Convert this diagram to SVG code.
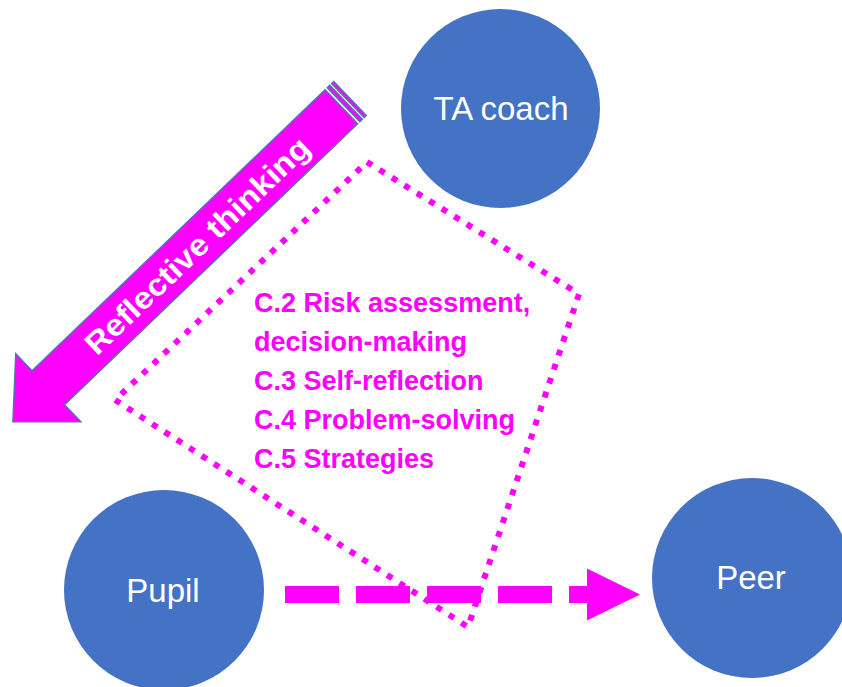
<svg xmlns="http://www.w3.org/2000/svg" width="842" height="687" viewBox="0 0 842 687">
  <style>
    .node { fill: #4472C4; }
    .nlabel { font-family: "Liberation Sans", Arial, sans-serif; font-size: 33px; fill: #FFFFFF; text-anchor: middle; }
    .clabel { font-family: "Liberation Sans", Arial, sans-serif; font-size: 27px; font-weight: bold; fill: #FF00FF; }
    .block { fill: #FF00FF; stroke: #5470B6; stroke-width: 1.5; stroke-linejoin: miter; }
    .dotted { fill: none; stroke: #FF00FF; stroke-width: 6; stroke-dasharray: 6 8.7; }
    .dashed { fill: none; stroke: #FF00FF; stroke-width: 17; stroke-dasharray: 54 17; }
  </style>
  <defs>
    <marker id="head" markerUnits="userSpaceOnUse" markerWidth="54" markerHeight="54" refX="0" refY="26" orient="auto">
      <polygon points="0,0 53,26 0,52" fill="#FF00FF"/>
    </marker>
  </defs>
  <rect width="842" height="687" fill="#FFFFFF"/>

  <g id="ta-coach">
    <circle class="node" cx="500.5" cy="108.5" r="99.5"/>
    <text class="nlabel" x="501" y="120">TA coach</text>
  </g>
  <g id="pupil">
    <circle class="node" cx="164" cy="590" r="100"/>
    <text class="nlabel" x="163" y="602">Pupil</text>
  </g>
  <g id="peer">
    <circle class="node" cx="752" cy="578" r="100"/>
    <text class="nlabel" x="751" y="589">Peer</text>
  </g>

  <g id="reflective-thinking">
    <g transform="translate(350,98.5) rotate(136.2)">
      <rect class="block" x="0" y="-23.5" width="3" height="47"/>
      <rect class="block" x="5.5" y="-23.5" width="3.5" height="47"/>
      <polygon class="block" points="12,-23.5 418,-23.5 418,-47 467,0 418,47 418,23.5 12,23.5"/>
    </g>
    <text transform="translate(197,245.5) rotate(-43.8)" x="0" y="11" text-anchor="middle" textLength="298" lengthAdjust="spacingAndGlyphs" font-family="Liberation Sans, Arial, sans-serif" font-size="31" font-weight="bold" fill="#FFFFFF">Reflective thinking</text>
  </g>

  <g id="connectors">
    <line class="dashed" x1="285" y1="594.5" x2="587" y2="594.5" marker-end="url(#head)"/>
  </g>

  <g id="competences">
    <polygon class="dotted" points="367,162 579,294 468,627 115,400"/>
    <text class="clabel" x="254" y="312">C.2 Risk assessment,</text>
    <text class="clabel" x="254" y="351">decision-making</text>
    <text class="clabel" x="254" y="390">C.3 Self-reflection</text>
    <text class="clabel" x="254" y="429">C.4 Problem-solving</text>
    <text class="clabel" x="254" y="468">C.5 Strategies</text>
  </g>
</svg>
